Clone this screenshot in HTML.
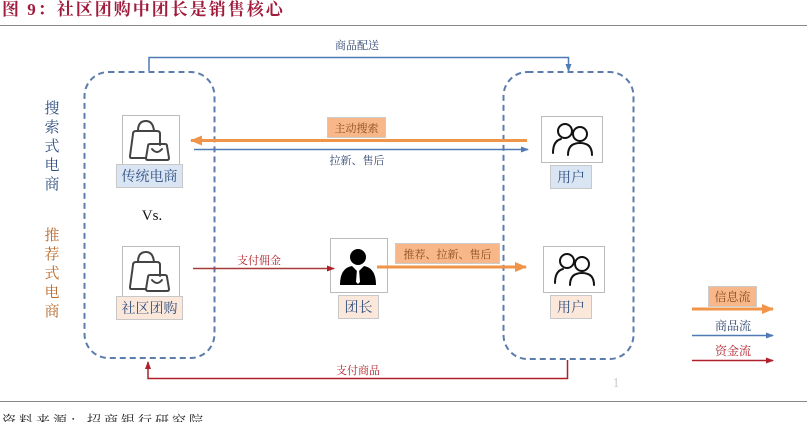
<!DOCTYPE html>
<html><head><meta charset="utf-8"><style>
html,body{margin:0;padding:0;background:#fff;width:807px;height:422px;overflow:hidden}
svg{display:block}
text{font-family:"Liberation Serif","Noto Serif CJK SC",serif}
</style></head><body>
<svg width="807" height="422" viewBox="0 0 807 422" xmlns="http://www.w3.org/2000/svg">
<defs>
<marker id="ab" markerWidth="8" markerHeight="8" refX="7" refY="4" orient="auto" markerUnits="userSpaceOnUse"><path d="M0,1 L8,4 L0,7 Z" fill="#4f7ab3"/></marker>
<marker id="ar" markerWidth="8" markerHeight="8" refX="7" refY="4" orient="auto" markerUnits="userSpaceOnUse"><path d="M0,1 L8,4 L0,7 Z" fill="#b0202a"/></marker>
<marker id="ao" markerWidth="12" markerHeight="10" refX="11" refY="5" orient="auto" markerUnits="userSpaceOnUse"><path d="M0,0 L12,5 L0,10 Z" fill="#f0944a"/></marker>
</defs>
<text x="2" y="15" font-size="17" font-weight="bold" fill="#a01c3c" letter-spacing="2">图 9：社区团购中团长是销售核心</text>
<line x1="0" y1="25.5" x2="807" y2="25.5" stroke="#888" stroke-width="1"/>
<line x1="0" y1="401.5" x2="807" y2="401.5" stroke="#888" stroke-width="1"/>
<text x="2" y="426" font-size="14" fill="#222" letter-spacing="3">资料来源：招商银行研究院</text>

<rect x="84.5" y="72" width="130" height="286" rx="24" fill="none" stroke="#5b7cac" stroke-width="2" stroke-dasharray="6,4"/>
<rect x="503.5" y="72" width="130" height="287" rx="24" fill="none" stroke="#5b7cac" stroke-width="2" stroke-dasharray="6,4"/>

<polyline points="149,71 149,57.5 568.5,57.5 568.5,71" fill="none" stroke="#4f7ab3" stroke-width="1.5" marker-end="url(#ab)"/>
<text x="357" y="49" font-size="11" fill="#2f4670" text-anchor="middle">商品配送</text>

<polyline points="567.5,360 567.5,378.5 148,378.5 148,362" fill="none" stroke="#b0202a" stroke-width="1.5" marker-end="url(#ar)"/>
<text x="358" y="374" font-size="11" fill="#b0202a" text-anchor="middle">支付商品</text>

<g font-size="15" fill="#2f4f80" text-anchor="middle">
<text x="52" y="113">搜</text><text x="52" y="132">索</text><text x="52" y="151">式</text><text x="52" y="170">电</text><text x="52" y="189">商</text>
</g>
<g font-size="15" fill="#b8692a" text-anchor="middle">
<text x="52" y="240">推</text><text x="52" y="259">荐</text><text x="52" y="278">式</text><text x="52" y="297">电</text><text x="52" y="316">商</text>
</g>
<text x="152" y="220" font-size="15" fill="#111" text-anchor="middle">Vs.</text>

<g>
<rect x="122.5" y="115.5" width="57" height="50" fill="#fff" stroke="#bbb"/>
<g fill="none" stroke="#444" stroke-width="2" stroke-linejoin="round" stroke-linecap="round">
<path d="M146,158 L131,158 Q130,158 130,156 L133,134 Q133,131 136,131 L157,131 Q160,131 160,134 L160,145"/>
<path d="M138,131 Q138,121 146,121 Q153,121 154,131"/>
<path d="M148,146 Q148,144 150,144 L165,144 Q167,144 167,146 L169,158 Q169,160 167,160 L148,160 Q146,160 146,158 Z"/>
<path d="M152,149 Q157,155 162,149"/>
</g>
<rect x="116.5" y="164.5" width="66" height="23" fill="#dae5f3" stroke="#c8c8c8"/>
<text x="149.5" y="181" font-size="14" fill="#2f4f80" text-anchor="middle">传统电商</text>
</g>
<g>
<rect x="122.5" y="246.5" width="57" height="50" fill="#fff" stroke="#bbb"/>
<g fill="none" stroke="#444" stroke-width="2" stroke-linejoin="round" stroke-linecap="round">
<path d="M146,289 L131,289 Q130,289 130,287 L133,265 Q133,262 136,262 L157,262 Q160,262 160,265 L160,276"/>
<path d="M138,262 Q138,252 146,252 Q153,252 154,262"/>
<path d="M148,277 Q148,275 150,275 L165,275 Q167,275 167,277 L169,289 Q169,291 167,291 L148,291 Q146,291 146,289 Z"/>
<path d="M152,280 Q157,286 162,280"/>
</g>
<rect x="116.5" y="296.5" width="66" height="23" fill="#fce8da" stroke="#c8c8c8"/>
<text x="149.5" y="313" font-size="14" fill="#2f4f80" text-anchor="middle">社区团购</text>
</g>

<g fill="none" stroke="#111" stroke-width="2" stroke-linecap="round">
<rect x="541.5" y="116.5" width="61" height="46" fill="#fff" stroke="#bbb" stroke-width="1"/>
<circle cx="565" cy="131" r="7"/><path d="M553,153 Q553,141 561,139"/>
<circle cx="580" cy="134" r="7"/><path d="M568,155 Q568,143 580,143 Q592,143 592,155"/>
<rect x="543.5" y="246.5" width="61" height="46" fill="#fff" stroke="#bbb" stroke-width="1"/>
<circle cx="567" cy="261" r="7"/><path d="M555,283 Q555,271 563,269"/>
<circle cx="582" cy="264" r="7"/><path d="M570,285 Q570,273 582,273 Q594,273 594,285"/>
</g>
<rect x="550.5" y="165.5" width="41" height="23" fill="#dae5f3" stroke="#c8c8c8"/>
<text x="571" y="182" font-size="14" fill="#2f4f80" text-anchor="middle">用户</text>
<rect x="550.5" y="295.5" width="41" height="23" fill="#fce8da" stroke="#c8c8c8"/>
<text x="571" y="312" font-size="14" fill="#2f4f80" text-anchor="middle">用户</text>

<rect x="330.5" y="238.5" width="57" height="54" fill="#fff" stroke="#bbb"/>
<circle cx="358" cy="257" r="8" fill="#000"/>
<path d="M340,285 Q340,268 352,266 L358,272 L364,266 Q376,268 376,285 Z" fill="#000"/>
<path d="M357,269 L359,269 L360,282 L358,284 L356,282 Z" fill="#fff"/>
<rect x="338.5" y="295.5" width="40" height="23" fill="#fce8da" stroke="#c8c8c8"/>
<text x="358.5" y="312" font-size="14" fill="#2f4f80" text-anchor="middle">团长</text>

<line x1="527" y1="140.5" x2="191" y2="140.5" stroke="#f0944a" stroke-width="3" marker-end="url(#ao)"/>
<rect x="327.5" y="117.5" width="58" height="20" fill="#f8b788" stroke="#ccc"/>
<text x="356.5" y="132" font-size="11" fill="#8a4a1a" text-anchor="middle">主动搜索</text>
<line x1="194" y1="149.5" x2="528" y2="149.5" stroke="#4f7ab3" stroke-width="1.5" marker-end="url(#ab)"/>
<text x="357" y="164" font-size="11" fill="#2f4670" text-anchor="middle">拉新、售后</text>

<line x1="193" y1="268.5" x2="334" y2="268.5" stroke="#a83a3a" stroke-width="1.5" marker-end="url(#ar)"/>
<text x="259" y="264" font-size="11" fill="#b0202a" text-anchor="middle">支付佣金</text>
<line x1="377" y1="267" x2="526" y2="267" stroke="#f0944a" stroke-width="3" marker-end="url(#ao)"/>
<rect x="395.5" y="243.5" width="104" height="20" fill="#f8b788" stroke="#ccc"/>
<text x="447.5" y="258" font-size="11" fill="#8a4a1a" text-anchor="middle">推荐、拉新、售后</text>

<text x="616" y="387" font-size="14" fill="#ccc" text-anchor="middle">1</text>

<rect x="708.5" y="286.5" width="48" height="20" fill="#f8b788" stroke="#ccc"/>
<text x="732.5" y="301" font-size="12" fill="#8a4a1a" text-anchor="middle">信息流</text>
<line x1="692" y1="309" x2="773" y2="309" stroke="#f0944a" stroke-width="3" marker-end="url(#ao)"/>
<text x="733" y="330" font-size="12" fill="#2f4670" text-anchor="middle">商品流</text>
<line x1="692" y1="335.5" x2="773" y2="335.5" stroke="#4f7ab3" stroke-width="1.5" marker-end="url(#ab)"/>
<text x="733" y="355" font-size="12" fill="#b0202a" text-anchor="middle">资金流</text>
<line x1="692" y1="360.5" x2="773" y2="360.5" stroke="#b0202a" stroke-width="1.5" marker-end="url(#ar)"/>
</svg>
</body></html>
